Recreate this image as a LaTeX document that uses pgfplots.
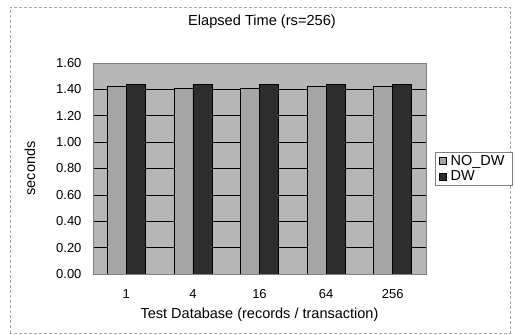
\documentclass[border=0pt]{standalone}
\usepackage{fontspec}
\setmainfont{Liberation Sans}
\usepackage{pgfplots}
\pgfplotsset{compat=1.18}
\definecolor{bg}{RGB}{182,182,182}
\definecolor{nodw}{RGB}{165,165,165}
\definecolor{dw}{RGB}{45,45,45}
\begin{document}
\begin{tikzpicture}[x=1pt,y=1pt]
\path (0,0) rectangle (515,335);
\draw[gray!70, densely dashed] (10,2) rectangle (510,328);
\node[font=\fontsize{14.6}{16}\selectfont] at (262,313) {Elapsed Time (rs=256)};
\begin{axis}[
  at={(93pt,61pt)}, anchor=south west,
  scale only axis, width=333pt, height=211pt,
  ybar=0pt, bar width=19pt,
  xmin=-0.5, xmax=4.5, ymin=0, ymax=1.6,
  xtick=data, xticklabels={1,4,16,64,256},
  ytick={0,0.2,...,1.61},
  yticklabel style={/pgf/number format/fixed, /pgf/number format/fixed zerofill, /pgf/number format/precision=2},
  /pgf/number format/assume math mode=true,
  tick style={draw=none},
  ymajorgrids, grid style={black, line width=0.5pt},
  axis background/.style={fill=bg},
  axis line style={gray},
  ticklabel style={font=\fontsize{13}{15}\selectfont},
  label style={font=\fontsize{14.5}{16}\selectfont},
  xticklabel style={yshift=-8pt},
  yticklabel style={xshift=-8pt},
  xlabel={Test Database (records / transaction)},
  ylabel={seconds},
  xlabel style={yshift=-2pt},
  ylabel style={yshift=14pt},
  legend style={at={(1.027,0.5)}, anchor=west, draw=gray, font=\fontsize{14.5}{16}\selectfont, inner xsep=4pt, inner ysep=1pt, row sep=0pt, legend cell align=left, nodes={inner xsep=4pt}},
  legend image code/.code={\draw[#1, draw=black] (0pt,-3.5pt) rectangle (7pt,3.5pt);},
]
\addplot[fill=nodw, draw=black, line width=0.5pt] coordinates {(0,1.42) (1,1.41) (2,1.41) (3,1.42) (4,1.42)};
\addplot[fill=dw, draw=black, line width=0.5pt] coordinates {(0,1.44) (1,1.44) (2,1.44) (3,1.44) (4,1.44)};
\legend{NO\_DW, DW}
\end{axis}
\end{tikzpicture}
\end{document}
